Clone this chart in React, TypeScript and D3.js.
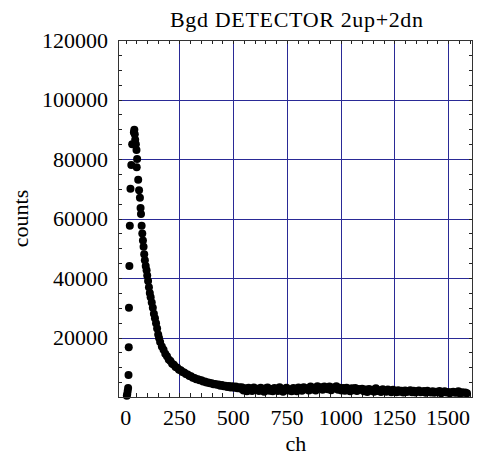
import React from "react";
import * as d3 from "d3";

// ---- data ----
const title = "Bgd DETECTOR 2up+2dn";
const xLabel = "ch";
const yLabel = "counts";
const xTicks = [0, 250, 500, 750, 1000, 1250, 1500];
const yTicks = [20000, 40000, 60000, 80000, 100000, 120000];

// rising edge + peak + fast decay (explicit channels)
const headCh = [5, 7, 9, 11, 13, 14, 15, 17, 19, 22, 26, 30, 38, 40, 42, 44, 47, 50, 51, 53, 58, 62, 66, 69, 71, 74, 77, 80, 83, 86, 89, 93, 97, 100, 104, 108, 112, 116, 121, 126, 131, 136, 141, 146, 151, 155];
const headCounts = [400, 1000, 2000, 3000, 7400, 16700, 30000, 44000, 57600, 70000, 78000, 85000, 89000, 89800, 88300, 86500, 85000, 83000, 77200, 80000, 73000, 69500, 67000, 63500, 61500, 57600, 55000, 52600, 50500, 48000, 46000, 44000, 42600, 40800, 39000, 36900, 35000, 33500, 31800, 30000, 28000, 26500, 24800, 23000, 21000, 19800];

// slow decay, channels 160, 168, 176, ...
const midStart = 160;
const midStep = 8;
const midCounts = [
  18500, 17000, 15900, 14500, 13700, 12600, 12100, 11200, 10800, 10100,
  9800, 9200, 9000, 8400, 8200, 7700, 7600, 7100, 7000, 6500,
  6400, 6000, 6000, 5600, 5600, 5200, 5200, 4900, 4900, 4600,
  4600, 4300, 4400, 4100, 4200, 3800, 4000, 3600, 3800, 3400,
  3700, 3200, 3600, 3100, 3500, 2900, 3300, 2800,
];

// tail, channels 540, 548, 556, ...
const tailStart = 540;
const tailStep = 8;
const tailCounts = [
  3300, 2200, 2900, 1900, 3100, 2600, 2000, 3200, 2400, 2800,
  2000, 3100, 2500, 1800, 2900, 3200, 2100, 2700, 1900, 3000,
  2600, 2000, 3300, 2300, 1800, 2800, 3100, 2200, 2500, 1900,
  3000, 2400, 1900, 3200, 2700, 2100, 3300, 2600, 2900, 2200,
  3500, 2500, 3100, 2200, 3600, 2800, 3300, 2400, 3500, 3000,
  2600, 3500, 2300, 3200, 2900, 3600, 2400, 3100, 2200, 3000,
  2100, 3100, 2600, 1900, 2900, 2300, 3000, 2000, 2700, 2400,
  2800, 1900, 2500, 1700, 2700, 2100, 2400, 1800, 2900, 2000,
  2300, 1700, 2600, 2000, 1800, 2500, 2100, 1600, 2400, 1900,
  1600, 2300, 1800, 2100, 1500, 2200, 1700, 2000, 2300, 1600,
  2100, 1500, 1900, 2200, 1600, 1800, 2000, 1400, 2100, 1700,
  1500, 1900, 1400, 1800, 1600, 2000, 1300, 1700, 1900, 1500,
  1700, 1300, 1600, 1800, 1400, 1500, 1900, 1200, 1600, 1400,
  1500, 1300,
];

const W = 477;
const H = 457;
const plot = { left: 118, right: 473, top: 40, bottom: 397 };
const FONT = "'Liberation Serif', 'Times New Roman', serif";

export default function App() {
  const x = d3.scaleLinear().domain([-36, 1616]).range([plot.left, plot.right]);
  const y = d3.scaleLinear().domain([0, 120000]).range([plot.bottom, plot.top]);

  const points: [number, number][] = [];
  headCh.forEach((c, i) => points.push([c, headCounts[i]]));
  midCounts.forEach((v, i) => points.push([midStart + i * midStep, v]));
  tailCounts.forEach((v, i) => points.push([tailStart + i * tailStep, v]));

  const crisp = (v: number) => Math.round(v) + 0.5;
  const xMinor = d3.range(0, 1601, 50);
  const yMinor = d3.range(5000, 120000, 5000);
  const tickLen = 4;

  return (
    <svg
      width={W}
      height={H}
      style={{ position: "absolute", left: 0, top: 0, background: "#fff" }}
      fontFamily={FONT}
    >
      <rect x={0} y={0} width={W} height={H} fill="#fff" />
      {/* grid */}
      {xTicks.filter((t) => t > 0).map((t) => (
        <line key={"gx" + t} x1={crisp(x(t))} x2={crisp(x(t))} y1={plot.top} y2={plot.bottom} stroke="#2a2a96" strokeWidth={1} />
      ))}
      {yTicks.filter((t) => t < 120000).map((t) => (
        <line key={"gy" + t} x1={plot.left} x2={plot.right} y1={crisp(y(t))} y2={crisp(y(t))} stroke="#2a2a96" strokeWidth={1} />
      ))}
      {/* minor ticks */}
      {xMinor.map((t) => (
        <g key={"mx" + t} stroke="#222" strokeWidth={1}>
          <line x1={crisp(x(t))} x2={crisp(x(t))} y1={plot.bottom} y2={plot.bottom - tickLen} />
          <line x1={crisp(x(t))} x2={crisp(x(t))} y1={plot.top} y2={plot.top + tickLen} />
        </g>
      ))}
      {yMinor.map((t) => (
        <g key={"my" + t} stroke="#222" strokeWidth={1}>
          <line x1={plot.left} x2={plot.left + tickLen} y1={crisp(y(t))} y2={crisp(y(t))} />
          <line x1={plot.right} x2={plot.right - tickLen} y1={crisp(y(t))} y2={crisp(y(t))} />
        </g>
      ))}
      {/* points */}
      {points.map(([c, v], i) => (
        <circle key={"p" + i} cx={x(c)} cy={y(v)} r={4} fill="#000" />
      ))}
      {/* frame */}
      <rect
        x={plot.left + 0.5}
        y={plot.top + 0.5}
        width={plot.right - plot.left - 1}
        height={plot.bottom - plot.top}
        fill="none"
        stroke="#333"
        strokeWidth={1}
      />
      {/* tick labels */}
      {xTicks.map((t) => (
        <text key={"tx" + t} x={x(t)} y={425} textAnchor="middle" fontSize={22} fill="#000">
          {t}
        </text>
      ))}
      {yTicks.map((t) => (
        <text key={"ty" + t} x={108} y={y(t) + 7.5} textAnchor="end" fontSize={22} fill="#000">
          {t}
        </text>
      ))}
      {/* titles */}
      <text x={170} y={27} fontSize={22} fill="#000" textLength={253} lengthAdjust="spacing">
        {title}
      </text>
      <text x={296} y={451} textAnchor="middle" fontSize={22} fill="#000">
        {xLabel}
      </text>
      <text
        transform={`translate(28, ${(plot.top + plot.bottom) / 2}) rotate(-90)`}
        textAnchor="middle"
        fontSize={22}
        fill="#000"
      >
        {yLabel}
      </text>
    </svg>
  );
}
